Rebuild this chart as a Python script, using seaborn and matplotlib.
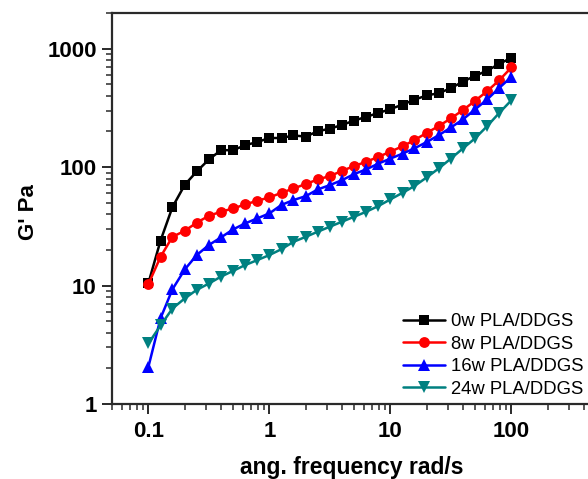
import numpy as np
import pandas as pd
import matplotlib
matplotlib.use("Agg")
import matplotlib.pyplot as plt
import seaborn as sns

# ---- data ----
freq = [0.1, 0.126, 0.158, 0.2, 0.251, 0.316, 0.398, 0.501, 0.631, 0.794,
        1.0, 1.26, 1.58, 2.0, 2.51, 3.16, 3.98, 5.01, 6.31, 7.94,
        10.0, 12.6, 15.8, 20.0, 25.1, 31.6, 39.8, 50.1, 63.1, 79.4, 100.0]
g_0w = [10.5, 24, 46, 71, 92, 116, 139, 139, 153, 163,
        176, 176, 185, 181, 201, 211, 227, 247, 266, 286,
        309, 337, 371, 403, 421, 464, 528, 589, 653, 743, 840]
g_8w = [10.3, 17.5, 25.8, 29, 34, 38.8, 42, 44.8, 48.4, 52,
        55.5, 60.7, 66, 72, 78.7, 84, 93, 102, 111, 122,
        135, 150, 169, 195, 222, 258, 303, 363, 438, 542, 694]
g_16w = [2.06, 5.3, 9.3, 13.7, 18.1, 22, 25.5, 29.8, 33.5, 36.9,
         40.7, 48, 52.7, 56.9, 64.8, 70.5, 77.6, 87.3, 95.7, 107,
         118, 130, 144, 163, 186, 216, 253, 307, 373, 467, 578]
g_24w = [3.25, 4.6, 6.4, 7.8, 9.2, 10.4, 11.9, 13.3, 14.9, 16.4,
         18.1, 20.3, 23.4, 25.8, 28.5, 31.4, 34.6, 38.1, 42, 46.9,
         53.4, 60.7, 69.2, 82, 97.5, 118, 144, 175, 222, 287, 367]
labels = ["0w PLA/DDGS", "8w PLA/DDGS", "16w PLA/DDGS", "24w PLA/DDGS"]
series = [g_0w, g_8w, g_16w, g_24w]
xtick_vals = [0.1, 1, 10, 100]
xtick_labels = ["0.1", "1", "10", "100"]
ytick_vals = [1, 10, 100, 1000]
ytick_labels = ["1", "10", "100", "1000"]

colors = ["#000000", "#FF0000", "#0000FF", "#008080"]
markers = ["s", "o", "^", "v"]
msizes = [6.8, 7.8, 8.3, 8.3]

sns.set_style("ticks")
plt.rcParams["font.family"] = ["Liberation Sans", "DejaVu Sans"]
plt.rcParams["text.color"] = "black"
plt.rcParams["axes.labelcolor"] = "black"

fig = plt.figure(figsize=(5.88, 4.79), dpi=100)
ax = fig.add_axes([112 / 588, 75 / 479, 484 / 588, 391 / 479])

for lab, vals, c, m, ms in zip(labels, series, colors, markers, msizes):
    df = pd.DataFrame({"freq": freq, "G": vals})
    sns.lineplot(data=df, x="freq", y="G", ax=ax, color=c, marker=m,
                 markersize=ms, markeredgewidth=0, linewidth=1.8, label=lab)

ax.set_xscale("log")
ax.set_yscale("log")
ax.set_xlim(0.05, 500)
ax.set_ylim(1, 2000)

ax.set_xticks(xtick_vals)
ax.set_xticklabels(xtick_labels)
ax.set_yticks(ytick_vals)
ax.set_yticklabels(ytick_labels)

for s in ["left", "bottom", "top", "right"]:
    ax.spines[s].set_linewidth(1.6)
    ax.spines[s].set_color("#2a2a2a")

ax.tick_params(which="major", direction="out", length=7, width=1.4,
               colors="#2a2a2a", labelcolor="black", labelsize=16)
ax.tick_params(which="minor", direction="out", length=4, width=1.1,
               colors="#2a2a2a")
ax.tick_params(axis="x", which="major", pad=5)
ax.tick_params(axis="y", which="major", pad=4)
ax.tick_params(top=False, right=False, which="both")
for t in ax.get_xticklabels() + ax.get_yticklabels():
    t.set_fontweight("bold")

ax.set_xlabel("ang. frequency rad/s", fontsize=16.5, fontweight="bold")
ax.set_ylabel("G' Pa", fontsize=16, fontweight="bold")
ax.xaxis.set_label_coords(0.495, -0.132)
ax.yaxis.set_label_coords(-0.15, 0.49)

leg = ax.legend(loc="upper left", bbox_to_anchor=(403 / 588, 1 - 313 / 479),
                bbox_transform=fig.transFigure, frameon=False, fontsize=13.3,
                handlelength=2.3, handletextpad=0.3, labelspacing=0.3,
                borderpad=0, borderaxespad=0)
for t in leg.get_texts():
    t.set_color("black")

fig.savefig("out.png", dpi=100)
